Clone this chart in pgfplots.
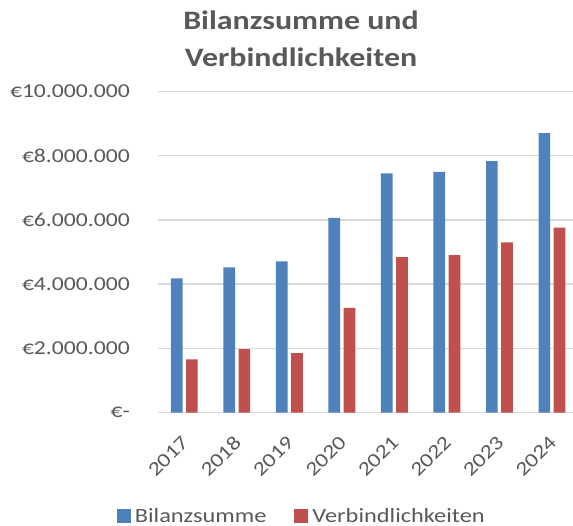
\documentclass[border=0pt]{standalone}
\usepackage{fontspec}
\setmainfont{Carlito}[FakeStretch=1.2]
\usepackage{pgfplots}
\pgfplotsset{compat=1.18}
\definecolor{txt}{HTML}{595959}
\definecolor{grd}{HTML}{D9D9D9}
\definecolor{cblue}{HTML}{4F81BD}
\definecolor{cred}{HTML}{C0504D}
\begin{document}
\begin{tikzpicture}[x=1pt,y=1pt]
\useasboundingbox (0,0) rectangle (573,526);
\begin{axis}[
  at={(158pt,113.3pt)}, anchor=south west,
  scale only axis, width=415pt, height=321.4pt,
  xmin=-0.5, xmax=7.4, ymin=0, ymax=10000000,
  ybar=3.5pt, bar width=11.7pt,
  axis line style={draw=none},
  major tick length=0pt,
  ymajorgrids, grid style={grd, line width=1.3pt},
  ytick={0,2000000,4000000,6000000,8000000,10000000},
  yticklabels={€-, €2.000.000, €4.000.000, €6.000.000, €8.000.000, €10.000.000},
  xtick={0,...,7},
  xticklabels={2017,2018,2019,2020,2021,2022,2023,2024},
  scaled y ticks=false,
  yticklabel style={font=\fontsize{19.7}{23}\selectfont, text=txt, anchor=east, inner sep=0pt, xshift=-28pt},
  xticklabel style={font=\fontsize{19.7}{23}\selectfont, text=txt, rotate=45, anchor=east, inner sep=0pt, xshift=-18pt, yshift=-19.5pt},
  legend style={at={(0.349,-0.321)}, anchor=center, draw=none, fill=none, legend columns=2,
    font=\fontsize{20.3}{23}\selectfont, text=txt,
    /tikz/every even column/.append style={column sep=24pt},
    nodes={inner sep=4pt}},
]
\addplot[fill=cblue, draw=none, legend image code/.code={\fill[cblue] (0pt,-7pt) rectangle (14pt,7pt);}] coordinates {
(0,4180000) (1,4520000) (2,4710000) (3,6060000) (4,7450000) (5,7490000) (6,7830000) (7,8700000)};
\addlegendentry{Bilanzsumme}
\addplot[fill=cred, draw=none, legend image code/.code={\fill[cred] (0pt,-7pt) rectangle (14pt,7pt);}] coordinates {
(0,1660000) (1,1980000) (2,1850000) (3,3260000) (4,4840000) (5,4900000) (6,5300000) (7,5760000)};
\addlegendentry{Verbindlichkeiten}
\end{axis}
\node[anchor=base, text=txt, font=\fontsize{26.6}{30}\selectfont\bfseries] at (301,496.7) {Bilanzsumme und};
\node[anchor=base, text=txt, font=\fontsize{26.6}{30}\selectfont\bfseries] at (301,459.3) {Verbindlichkeiten};
\end{tikzpicture}
\end{document}
